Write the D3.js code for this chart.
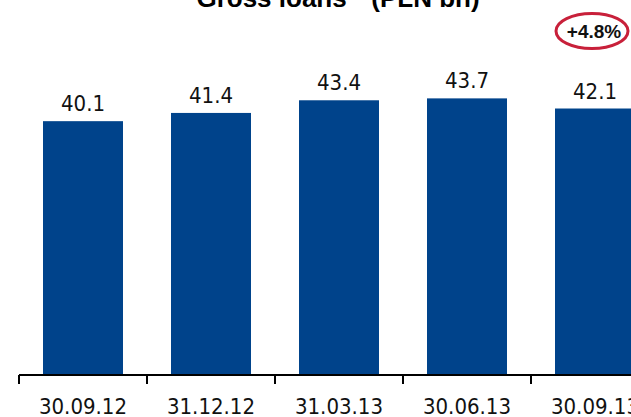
<!DOCTYPE html>
<html>
<head>
<meta charset="utf-8">
<script src="https://cdn.jsdelivr.net/npm/d3@7"></script>
<style>
  html, body { margin: 0; padding: 0; background: #fff; }
  svg { display: block; }
</style>
</head>
<body>
<svg id="chart" width="631" height="417"></svg>
<script>
// Quarter-end dates and gross loans (PLN bn)
const categories = ["30.09.12", "31.12.12", "31.03.13", "30.06.13", "30.09.13"];
const values = [40.1, 41.4, 43.4, 43.7, 42.1];
const titleText = "Gross loans * (PLN bn)";
const growthLabel = "+4.8%";

const W = 631, H = 417;
const svg = d3.select("#chart");

const baseY = 375;
const x = d3.scaleBand()
  .domain(categories)
  .range([19, 19 + 128 * categories.length])
  .paddingInner(0.375)
  .paddingOuter(0.1875);

const y = d3.scaleLinear()
  .domain([0, 50])
  .range([baseY, baseY - 316.5]);

const gap = (x.step() - x.bandwidth()) / 2;

// Title (partly above the visible area)
svg.append("text")
  .attr("x", 338)
  .attr("y", 7)
  .attr("text-anchor", "middle")
  .style("font-family", "'Liberation Sans', Arial, sans-serif")
  .style("font-weight", "bold")
  .style("font-size", "26px")
  .attr("fill", "#000")
  .text(titleText);

// Bars
svg.append("g").selectAll("rect")
  .data(values)
  .join("rect")
  .attr("x", (d, i) => x(categories[i]))
  .attr("y", d => y(d))
  .attr("width", x.bandwidth())
  .attr("height", d => y(0) - y(d))
  .attr("fill", "#00438b");

// Value labels
svg.append("g").selectAll("text")
  .data(values)
  .join("text")
  .attr("x", (d, i) => x(categories[i]) + x.bandwidth() / 2)
  .attr("y", d => y(d) - 10)
  .attr("text-anchor", "middle")
  .style("font-family", "'DejaVu Sans Condensed', 'DejaVu Sans', sans-serif")
  .style("font-size", "22px")
  .attr("fill", "#111")
  .text(d => d.toFixed(1));

// Category axis: baseline with ticks at band boundaries
const axis = svg.append("g");
axis.append("line")
  .attr("x1", x(categories[0]) - gap)
  .attr("x2", W)
  .attr("y1", baseY).attr("y2", baseY)
  .attr("stroke", "#000").attr("stroke-width", 2);

axis.selectAll("line.tick")
  .data(categories)
  .join("line")
  .attr("class", "tick")
  .attr("x1", d => x(d) - gap)
  .attr("x2", d => x(d) - gap)
  .attr("y1", baseY)
  .attr("y2", baseY + 9)
  .attr("stroke", "#000").attr("stroke-width", 2);

axis.selectAll("text")
  .data(categories)
  .join("text")
  .attr("x", d => x(d) + x.bandwidth() / 2)
  .attr("y", 414)
  .attr("text-anchor", "middle")
  .style("font-family", "'DejaVu Sans Condensed', 'DejaVu Sans', sans-serif")
  .style("font-size", "22px")
  .attr("fill", "#111")
  .text(d => d);

// Growth callout above the last bar
const last = categories[categories.length - 1];
const cx = x(last) + x.bandwidth() / 2 - 3;
svg.append("ellipse")
  .attr("cx", cx)
  .attr("cy", 31)
  .attr("rx", 36)
  .attr("ry", 17.5)
  .attr("fill", "none")
  .attr("stroke", "#c8203a")
  .attr("stroke-width", 3);

svg.append("text")
  .attr("x", cx + 2)
  .attr("y", 38)
  .attr("text-anchor", "middle")
  .style("font-family", "'Liberation Sans', Arial, sans-serif")
  .style("font-weight", "bold")
  .style("font-size", "19px")
  .attr("fill", "#111")
  .text(growthLabel);
</script>
</body>
</html>
